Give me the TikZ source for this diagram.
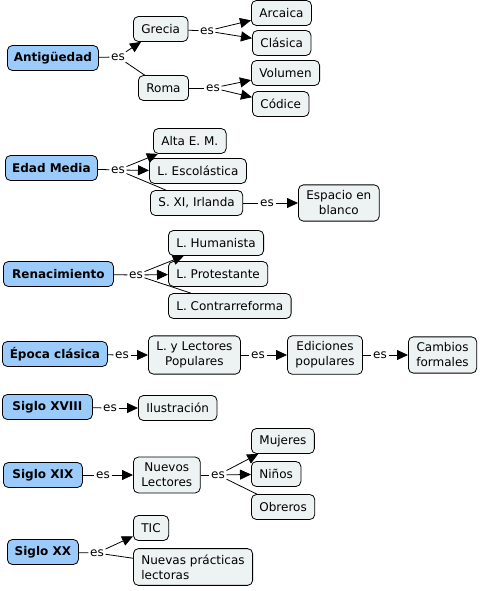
\documentclass[tikz,border=0pt]{standalone}
\usepackage{fontspec}
\setmainfont{DejaVu Sans}
\usepackage{xcolor}
\usepackage{tikz}
\usetikzlibrary{arrows.meta,positioning}

\definecolor{mainblue}{HTML}{9ACBFB}
\definecolor{subgray}{HTML}{EDF2F3}

\begin{document}
\begin{tikzpicture}[x=1pt,y=-1pt,
  every node/.style={font=\fontsize{12}{15}\selectfont},
  maincpt/.style={draw, line width=0.8pt, fill=mainblue, rounded corners=5pt,
    minimum height=25pt, inner xsep=5pt, anchor=west,
    font=\fontsize{12}{15}\selectfont\bfseries},
  subcpt/.style={draw, line width=0.8pt, fill=subgray, rounded corners=5pt,
    minimum height=25pt, inner xsep=8pt, anchor=west},
  twoline/.style={align=center, inner ysep=6pt},
  link/.style={inner sep=1.5pt},
  conn/.style={line width=0.8pt},
  arr/.style={conn, -{Triangle[length=11pt,width=10pt]}}]
\useasboundingbox (0,0) rectangle (479,591);

% Antiguedad
\node[maincpt, minimum width=91pt] (antig) at (7,58) {Antigüedad};
\node[link] (es1) at (118,57) {es};
\node[subcpt] (grecia) at (133,29) {Grecia};
\node[subcpt] (roma) at (138,88) {Roma};
\node[link] (es2) at (207,31) {es};
\node[link] (es3) at (213,88) {es};
\node[subcpt] (arcaica) at (251,13) {Arcaica};
\node[subcpt] (clasica) at (252,43) {Clásica};
\node[subcpt] (volumen) at (251,73) {Volumen};
\node[subcpt] (codice) at (252,104) {Códice};
\draw[conn] (antig) -- (es1);
\draw[arr] (es1) -- (grecia);
\draw[conn] (es1) -- (roma);
\draw[conn] (grecia) -- (es2);
\foreach \t in {arcaica,clasica} \draw[arr] (es2) -- (\t);
\draw[conn] (roma) -- (es3);
\foreach \t in {volumen,codice} \draw[arr] (es3) -- (\t);

% Edad Media
\node[maincpt, minimum width=92pt] (edad) at (5,168) {Edad Media};
\node[link] (es4) at (118,170) {es};
\node[subcpt] (alta) at (153,141) {Alta E. M.};
\node[subcpt] (escol) at (149,171) {L. Escolástica};
\node[subcpt] (irlanda) at (150,203) {S. XI, Irlanda};
\node[link] (es5) at (267,203) {es};
\node[subcpt, twoline] (espacio) at (298,203) {Espacio en\\blanco};
\draw[conn] (edad) -- (es4);
\foreach \t in {alta,escol} \draw[arr] (es4) -- (\t);
\draw[conn] (es4) -- (irlanda);
\draw[conn] (irlanda) -- (es5);
\draw[arr] (es5) -- (espacio);

% Renacimiento
\node[maincpt, minimum width=110pt] (renac) at (3,274) {Renacimiento};
\node[link] (es6) at (136,275) {es};
\node[subcpt] (humanista) at (168,243) {L. Humanista};
\node[subcpt] (protest) at (168,274) {L. Protestante};
\node[subcpt] (contra) at (168,306) {L. Contrarreforma};
\draw[conn] (renac) -- (es6);
\foreach \t in {humanista,protest} \draw[arr] (es6) -- (\t);
\draw[conn] (es6) -- (contra);

% Epoca clasica
\node[maincpt, minimum width=105pt] (epoca) at (2,354) {Época clásica};
\node[link] (es7) at (122,355) {es};
\node[subcpt, twoline] (lylp) at (148,355) {L. y Lectores\\Populares};
\node[link] (es8) at (258,355) {es};
\node[subcpt, twoline] (edic) at (287,355) {Ediciones\\populares};
\node[link] (es9) at (380,355) {es};
\node[subcpt, twoline] (cambios) at (408,355) {Cambios\\formales};
\draw[conn] (epoca) -- (es7);
\draw[arr] (es7) -- (lylp);
\draw[conn] (lylp) -- (es8);
\draw[arr] (es8) -- (edic);
\draw[conn] (edic) -- (es9);
\draw[arr] (es9) -- (cambios);

% Siglo XVIII
\node[maincpt, minimum width=90pt] (xviii) at (2,407) {Siglo XVIII};
\node[link] (es10) at (110,408) {es};
\node[subcpt] (ilustr) at (138,408) {Ilustración};
\draw[conn] (xviii) -- (es10);
\draw[arr] (es10) -- (ilustr);

% Siglo XIX
\node[maincpt, minimum width=79pt] (xix) at (3,475) {Siglo XIX};
\node[link] (es11) at (103,475) {es};
\node[subcpt, twoline] (nuevoslect) at (133,475) {Nuevos\\Lectores};
\node[link] (es12) at (218,475) {es};
\node[subcpt] (mujeres) at (251,441) {Mujeres};
\node[subcpt] (ninos) at (251,474) {Niños};
\node[subcpt] (obreros) at (251,507) {Obreros};
\draw[conn] (xix) -- (es11);
\draw[arr] (es11) -- (nuevoslect);
\draw[conn] (nuevoslect) -- (es12);
\foreach \t in {mujeres,ninos} \draw[arr] (es12) -- (\t);
\draw[conn] (es12) -- (obreros);

% Siglo XX
\node[maincpt, minimum width=71pt] (xx) at (7,552) {Siglo XX};
\node[link] (es13) at (97,553) {es};
\node[subcpt] (tic) at (133,528) {TIC};
\node[subcpt, twoline, align=left] (nuevasprac) at (133,567) {Nuevas prácticas\\lectoras};
\draw[conn] (xx) -- (es13);
\draw[arr] (es13) -- (tic);
\draw[conn] (es13) -- (nuevasprac);
\end{tikzpicture}
\end{document}
